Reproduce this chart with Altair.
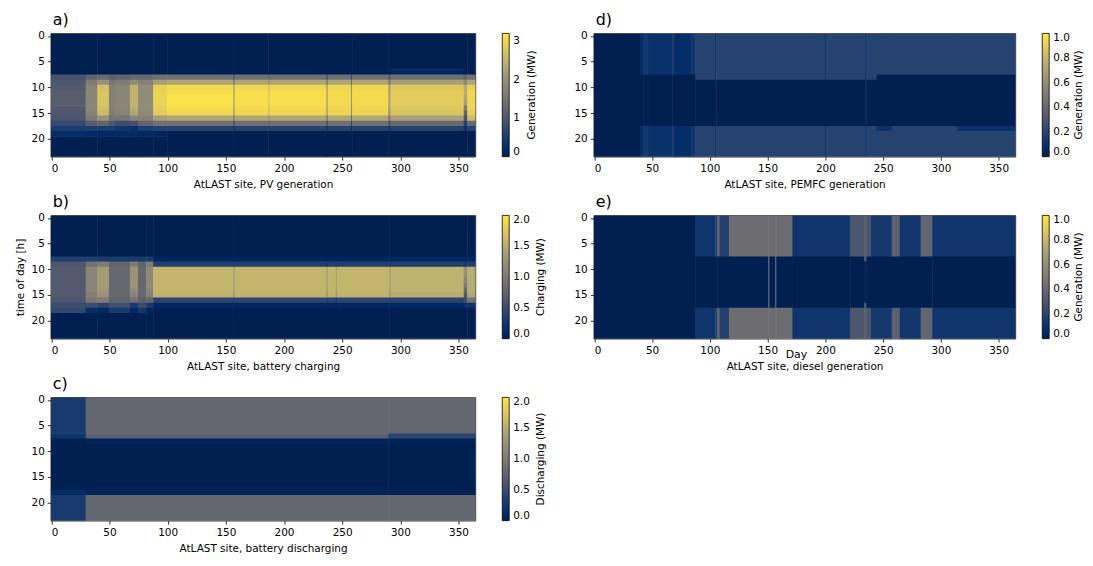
import altair as alt
import pandas as pd

# ---------------- data ----------------
X_TICKS = [0, 50, 100, 150, 200, 250, 300, 350]
Y_TICKS = [0, 5, 10, 15, 20]

# a) PV generation (MW); day-segment boundaries and hourly profiles (hours 0..23)
A_DAYS = [0, 30, 40, 50, 55, 68, 75, 88, 100, 157, 158, 187, 188, 237, 238, 258, 259, 290, 292, 355, 358, 365]
A_PROF = [
    [0]*8 + [0.9, 1.0, 1.05, 1.1, 1.1, 1.1, 1.05, 1.0, 0.95, 0.75, 0.5, 0.25] + [0]*4,
    [0]*8 + [1.2, 1.6, 1.8, 1.8, 1.8, 1.8, 1.8, 1.75, 1.6, 1.1, 0.5, 0.2] + [0]*4,
    [0]*8 + [1.3, 2.0, 2.7, 2.75, 2.75, 2.75, 2.7, 2.6, 2.0, 1.2, 0.5, 0.15] + [0]*4,
    [0]*8 + [1.1, 1.5, 1.7, 1.7, 1.7, 1.7, 1.7, 1.65, 1.5, 1.0, 0.5, 0.15] + [0]*4,
    [0]*8 + [1.2, 1.6, 1.8, 1.8, 1.8, 1.8, 1.8, 1.75, 1.5, 0.8, 0.4, 0.2] + [0]*4,
    [0]*8 + [1.3, 1.9, 2.5, 2.5, 2.5, 2.5, 2.45, 2.3, 1.8, 0.9, 0.3, 0.2] + [0]*4,
    [0]*8 + [1.3, 1.7, 1.9, 1.9, 1.9, 1.9, 1.9, 1.85, 1.7, 1.2, 0.5, 0.15] + [0]*4,
    [0]*8 + [1.4, 2.2, 2.9, 2.95, 2.95, 2.95, 2.9, 2.85, 2.2, 1.4, 0.6, 0.1] + [0]*4,
    [0]*8 + [1.4, 2.3, 3.05, 3.1, 3.15, 3.15, 3.1, 3.0, 2.3, 1.4, 0.6, 0] + [0]*4,
    [0]*8 + [0.8, 1.4, 2.0, 2.1, 2.1, 2.1, 2.0, 1.9, 1.4, 0.7, 0.3, 0] + [0]*4,
    [0]*8 + [1.4, 2.3, 3.0, 3.1, 3.1, 3.1, 3.05, 3.0, 2.3, 1.4, 0.6, 0] + [0]*4,
    [0]*8 + [1.1, 1.9, 2.6, 2.7, 2.7, 2.7, 2.6, 2.5, 1.9, 1.1, 0.5, 0] + [0]*4,
    [0]*8 + [1.4, 2.3, 3.0, 3.1, 3.1, 3.1, 3.05, 3.0, 2.3, 1.4, 0.6, 0] + [0]*4,
    [0]*8 + [0.8, 1.4, 2.0, 2.1, 2.1, 2.1, 2.0, 1.9, 1.4, 0.7, 0.3, 0] + [0]*4,
    [0]*8 + [1.4, 2.3, 3.0, 3.05, 3.05, 3.05, 3.0, 2.95, 2.3, 1.4, 0.6, 0] + [0]*4,
    [0]*8 + [0.8, 1.4, 2.0, 2.1, 2.1, 2.1, 2.0, 1.9, 1.4, 0.7, 0.3, 0] + [0]*4,
    [0]*8 + [1.4, 2.3, 3.0, 3.05, 3.05, 3.05, 3.0, 2.95, 2.3, 1.4, 0.6, 0] + [0]*4,
    [0]*8 + [1.0, 1.6, 2.2, 2.3, 2.3, 2.3, 2.2, 2.1, 1.6, 0.9, 0.4, 0] + [0]*4,
    [0]*7 + [0.12, 1.4, 2.2, 2.8, 2.85, 2.85, 2.85, 2.8, 2.75, 2.2, 1.3, 0.6, 0] + [0]*4,
    [0]*8 + [1.2, 1.8, 2.4, 2.4, 2.3, 2.2, 1.6, 1.2, 0.9, 0.6, 0.3, 0] + [0]*4,
    [0]*8 + [1.4, 2.3, 2.9, 3.0, 3.0, 3.0, 2.95, 2.9, 2.6, 1.3, 0.6, 0] + [0]*4,
]

# b) battery charging (MW)
B_DAYS = [0, 30, 40, 50, 68, 75, 82, 88, 157, 158, 237, 238, 245, 246, 291, 292, 355, 358, 365]
B_PROF = [
    [0]*8 + [0.35, 0.6, 0.65, 0.65, 0.65, 0.65, 0.65, 0.65, 0.6, 0.5, 0.45] + [0]*5,
    [0]*8 + [0.35, 0.9, 1.1, 1.1, 1.1, 1.1, 1.1, 1.05, 0.95, 0.5, 0.15] + [0]*5,
    [0]*8 + [0.3, 1.0, 1.35, 1.35, 1.35, 1.35, 1.3, 1.25, 1.0, 0.4, 0.1] + [0]*5,
    [0]*8 + [0.3, 0.75, 0.8, 0.8, 0.8, 0.8, 0.8, 0.8, 0.75, 0.55, 0.3] + [0]*5,
    [0]*8 + [0.3, 1.0, 1.25, 1.25, 1.25, 1.25, 1.2, 1.1, 0.9, 0.3, 0.1] + [0]*5,
    [0]*8 + [0.3, 0.75, 0.8, 0.8, 0.8, 0.8, 0.8, 0.8, 0.7, 0.5, 0.25] + [0]*5,
    [0]*8 + [0.3, 1.0, 1.15, 1.15, 1.15, 1.15, 1.1, 1.05, 0.8, 0.3, 0.05] + [0]*5,
    [0]*8 + [0.08, 0.35, 1.58, 1.58, 1.58, 1.58, 1.58, 1.55, 0.4, 0.1, 0] + [0]*5,
    [0]*8 + [0.05, 0.3, 1.3, 1.35, 1.35, 1.35, 1.3, 1.2, 0.3, 0.05, 0] + [0]*5,
    [0]*8 + [0.08, 0.35, 1.58, 1.58, 1.58, 1.58, 1.58, 1.55, 0.4, 0.1, 0] + [0]*5,
    [0]*8 + [0.05, 0.3, 1.3, 1.35, 1.35, 1.35, 1.3, 1.2, 0.3, 0.05, 0] + [0]*5,
    [0]*8 + [0.08, 0.35, 1.58, 1.58, 1.58, 1.58, 1.58, 1.55, 0.4, 0.1, 0] + [0]*5,
    [0]*8 + [0.05, 0.3, 1.35, 1.4, 1.4, 1.4, 1.35, 1.25, 0.3, 0.05, 0] + [0]*5,
    [0]*8 + [0.08, 0.35, 1.58, 1.58, 1.58, 1.58, 1.58, 1.55, 0.4, 0.1, 0] + [0]*5,
    [0]*8 + [0.05, 0.3, 1.3, 1.35, 1.35, 1.35, 1.3, 1.2, 0.3, 0.05, 0] + [0]*5,
    [0]*8 + [0.1, 0.35, 1.55, 1.55, 1.55, 1.55, 1.55, 1.5, 0.4, 0.12, 0] + [0]*5,
    [0]*8 + [0.1, 0.3, 1.2, 1.2, 1.1, 1.0, 0.8, 0.6, 0.5, 0.2, 0] + [0]*5,
    [0]*8 + [0.1, 0.35, 1.5, 1.5, 1.5, 1.5, 1.5, 1.45, 0.9, 0.2, 0] + [0]*5,
]

# c) battery discharging (MW)
C_DAYS = [0, 30, 290, 365]
C_PROF = [
    [0.3]*7 + [0.22] + [0]*10 + [0.15] + [0.3]*5,
    [0.78]*7 + [0.7] + [0.05] + [0]*9 + [0.06] + [0.78]*5,
    [0.78]*7 + [0.4] + [0.03] + [0]*9 + [0.03] + [0.78]*5,
]

# d) PEMFC generation (MW)
D_DAYS = [0, 40, 43, 47, 68, 70, 84, 88, 105, 106, 200, 201, 235, 236, 245, 258, 315, 365]
D_PROF = [
    [0]*24,
    [0.08]*8 + [0]*10 + [0.08]*6,
    [0.14]*8 + [0]*10 + [0.14]*6,
    [0.1]*8 + [0]*10 + [0.1]*6,
    [0.15]*8 + [0]*10 + [0.15]*6,
    [0.08]*8 + [0]*10 + [0.08]*6,
    [0.13]*8 + [0]*10 + [0.13]*6,
    [0.19]*9 + [0]*9 + [0.19]*6,
    [0.1]*9 + [0]*9 + [0.1]*6,
    [0.19]*9 + [0]*9 + [0.19]*6,
    [0.14]*9 + [0]*9 + [0.14]*6,
    [0.19]*9 + [0]*9 + [0.19]*6,
    [0.07]*9 + [0]*9 + [0.07]*6,
    [0.19]*9 + [0]*9 + [0.19]*6,
    [0.19]*8 + [0]*10 + [0.1] + [0.19]*5,
    [0.19]*8 + [0]*10 + [0.19]*6,
    [0.19]*8 + [0]*10 + [0.1] + [0.19]*5,
]

# e) diesel generation (MW)
E_DAYS = [0, 88, 105, 107, 109, 117, 151, 152, 157, 158, 172, 222, 234, 236, 240, 258, 265, 283, 293, 365]
E_PROF = [
    [0]*24,
    [0.12]*8 + [0]*10 + [0.12]*6,
    [0.2]*8 + [0]*10 + [0.2]*6,
    [0.38]*8 + [0]*10 + [0.38]*6,
    [0.18]*8 + [0]*10 + [0.18]*6,
    [0.42]*8 + [0]*10 + [0.42]*6,
    [0.42]*8 + [0.35]*10 + [0.42]*6,
    [0.42]*8 + [0]*10 + [0.42]*6,
    [0.42]*8 + [0.35]*10 + [0.42]*6,
    [0.42]*8 + [0]*10 + [0.42]*6,
    [0.12]*8 + [0]*10 + [0.12]*6,
    [0.3]*8 + [0]*10 + [0.3]*6,
    [0.35]*8 + [0.3] + [0]*8 + [0.3] + [0.35]*6,
    [0.3]*8 + [0]*10 + [0.3]*6,
    [0.14]*8 + [0]*10 + [0.14]*6,
    [0.36]*8 + [0]*10 + [0.36]*6,
    [0.13]*8 + [0]*10 + [0.13]*6,
    [0.38]*8 + [0]*10 + [0.38]*6,
    [0.12]*8 + [0]*10 + [0.12]*6,
]

LETTERS = ["a)", "b)", "c)", "d)", "e)"]
X_TITLES = ["AtLAST site, PV generation", "AtLAST site, battery charging",
            "AtLAST site, battery discharging", "AtLAST site, PEMFC generation",
            "AtLAST site, diesel generation"]
C_TITLES = ["Generation (MW)", "Charging (MW)", "Discharging (MW)",
            "Generation (MW)", "Generation (MW)"]
C_MAX = [3.2, 2.0, 2.0, 1.0, 1.0]
C_TICKS = [[0, 1, 2, 3], [0, 0.5, 1, 1.5, 2], [0, 0.5, 1, 1.5, 2],
           [0, 0.2, 0.4, 0.6, 0.8, 1.0], [0, 0.2, 0.4, 0.6, 0.8, 1.0]]
C_FMT = ["d", ".1f", ".1f", ".1f", ".1f"]
C_TITLE_GAP = [57, 66, 66, 64, 64]
Y_TITLE = "time of day [h]"
DAY_LABEL = ["Day"]
DAY_LABEL_AT = 175

# small overlap (in data units) so neighbouring cells leave no hairline seams
OVER_X, OVER_Y = 0.45, 0.1


def to_rects(days, profs):
    recs = []
    for i, prof in enumerate(profs):
        d0, d1 = days[i], days[i + 1]
        h = 0
        while h < 24:
            k = h
            while k + 1 < 24 and prof[k + 1] == prof[h]:
                k += 1
            recs.append({"x": d0 - 0.5, "x2": d1 - 0.5 + OVER_X, "y": h - 0.5,
                         "y2": k + 0.5 + OVER_Y, "v": prof[h]})
            h = k + 1
    return pd.DataFrame(recs)


FONT = "DejaVu Sans"
H = 124
OFFSET = 27


def panel(i, df, width, ytitle=None, extra=None):
    if ytitle:
        yaxis = alt.Axis(values=Y_TICKS, title=ytitle, titlePadding=6)
    else:
        yaxis = alt.Axis(values=Y_TICKS, title=None)
    rects = alt.Chart(df).mark_rect(clip=True).encode(
        x=alt.X("x:Q", scale=alt.Scale(domain=[-0.5, 364.5], nice=False, zero=False),
                axis=alt.Axis(values=X_TICKS, title=X_TITLES[i], titlePadding=6)),
        x2="x2:Q",
        y=alt.Y("y:Q", scale=alt.Scale(domain=[-0.5, 23.5], nice=False, zero=False, reverse=True),
                axis=yaxis),
        y2="y2:Q",
        color=alt.Color("v:Q",
                        scale=alt.Scale(scheme="cividis", domain=[0, C_MAX[i]], clamp=True),
                        legend=alt.Legend(title=None, values=C_TICKS[i], format=C_FMT[i],
                                          orient="right", direction="vertical", type="gradient",
                                          gradientLength=H, gradientThickness=7,
                                          gradientStrokeColor="black", gradientStrokeWidth=0.8,
                                          offset=OFFSET, labelOffset=4)),
    )
    ctitle = alt.Chart(pd.DataFrame({"t": [C_TITLES[i]]})).mark_text(
        angle=270, fontSize=10.5, font=FONT, align="center", baseline="middle", color="black"
    ).encode(text="t:N", x=alt.value(width + C_TITLE_GAP[i]), y=alt.value(H / 2))
    layers = [rects, ctitle] + ([extra] if extra is not None else [])
    return alt.layer(*layers).properties(
        width=width, height=H,
        title=alt.TitleParams(text=LETTERS[i], anchor="start", frame="group", fontSize=16,
                              fontWeight="normal", font=FONT, offset=3, dx=2),
    )


day_txt = alt.Chart(pd.DataFrame({"t": DAY_LABEL})).mark_text(
    fontSize=11, font=FONT, baseline="middle", color="black"
).encode(text="t:N", x=alt.datum(DAY_LABEL_AT), y=alt.value(H + 16))

pa = panel(0, to_rects(A_DAYS, A_PROF), 427)
pb = panel(1, to_rects(B_DAYS, B_PROF), 427, Y_TITLE)
pc = panel(2, to_rects(C_DAYS, C_PROF), 427)
pd_ = panel(3, to_rects(D_DAYS, D_PROF), 424)
pe = panel(4, to_rects(E_DAYS, E_PROF), 424, extra=day_txt)

RES = dict(color="independent", x="independent", y="independent")
left = alt.vconcat(pa, pb, pc, spacing=3).resolve_scale(**RES)
right = alt.vconcat(pd_, pe, spacing=3).resolve_scale(**RES)

chart = alt.hconcat(left, right, spacing=26).resolve_scale(**RES).properties(
    padding={"left": 6, "top": 2, "right": 0, "bottom": 2}
).configure(font=FONT, background="white").configure_view(
    stroke="black", strokeWidth=0.8
).configure_axis(
    domain=False, grid=False, labelFont=FONT, titleFont=FONT, labelFontSize=10.5,
    titleFontSize=10.5, titleFontWeight="normal", tickColor="black", labelColor="black",
    titleColor="black", tickSize=3.5, tickWidth=0.8, labelPadding=3
).configure_legend(
    labelFont=FONT, titleFont=FONT, labelFontSize=10.5, titleFontSize=10.5,
    titleFontWeight="normal", labelColor="black", titleColor="black"
).configure_title(font=FONT, color="black")

chart.save("out.html", embed_options={"renderer": "svg", "actions": False})
